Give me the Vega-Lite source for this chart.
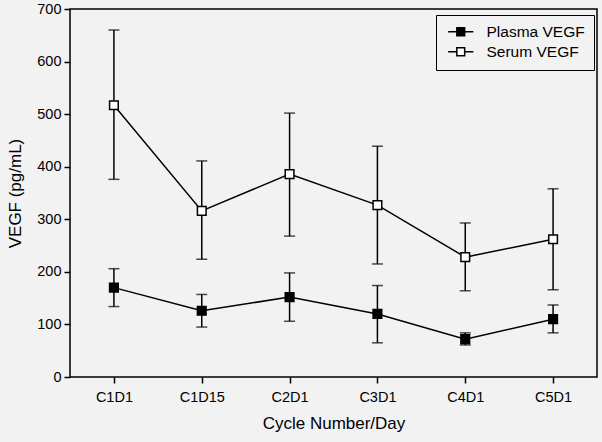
{
  "$schema": "https://vega.github.io/schema/vega-lite/v6.json",
  "width": 527,
  "height": 368,
  "autosize": {"type": "none"},
  "padding": {"left": 70, "top": 9, "right": 5, "bottom": 65},
  "background": "#f2f2f2",
  "config": {
    "view": {"stroke": "#000000", "strokeWidth": 1.5},
    "font": "Liberation Sans",
    "axis": {
      "labelFont": "Liberation Sans",
      "titleFont": "Liberation Sans",
      "labelFontSize": 14.5,
      "titleFontSize": 17,
      "labelColor": "#000000",
      "titleColor": "#000000",
      "titleFontWeight": "normal",
      "tickColor": "#000000",
      "domainColor": "#000000",
      "tickWidth": 1.5,
      "domainWidth": 1.5,
      "tickSize": 6,
      "grid": false
    }
  },
  "data": {
    "values": [
      {"day": "C1D1", "series": "Plasma VEGF", "mean": 170, "lo": 134, "hi": 206},
      {"day": "C1D15", "series": "Plasma VEGF", "mean": 126, "lo": 95, "hi": 157},
      {"day": "C2D1", "series": "Plasma VEGF", "mean": 152, "lo": 106, "hi": 198},
      {"day": "C3D1", "series": "Plasma VEGF", "mean": 120, "lo": 65, "hi": 174},
      {"day": "C4D1", "series": "Plasma VEGF", "mean": 72, "lo": 61, "hi": 84},
      {"day": "C5D1", "series": "Plasma VEGF", "mean": 110, "lo": 84, "hi": 137},
      {"day": "C1D1", "series": "Serum VEGF", "mean": 517, "lo": 376, "hi": 660},
      {"day": "C1D15", "series": "Serum VEGF", "mean": 316, "lo": 224, "hi": 411},
      {"day": "C2D1", "series": "Serum VEGF", "mean": 386, "lo": 268, "hi": 502},
      {"day": "C3D1", "series": "Serum VEGF", "mean": 327, "lo": 215, "hi": 439},
      {"day": "C4D1", "series": "Serum VEGF", "mean": 228, "lo": 164, "hi": 293},
      {"day": "C5D1", "series": "Serum VEGF", "mean": 262, "lo": 166, "hi": 358}
    ]
  },
  "encoding": {
    "x": {
      "field": "day",
      "type": "ordinal",
      "sort": ["C1D1", "C1D15", "C2D1", "C3D1", "C4D1", "C5D1"],
      "scale": {"type": "point", "padding": 0.5},
      "axis": {"title": "Cycle Number/Day", "labelAngle": 0, "labelPadding": 7, "titlePadding": 12, "domain": false}
    }
  },
  "layer": [
    {
      "mark": {"type": "rule", "color": "#000000", "strokeWidth": 1.5},
      "encoding": {
        "y": {"field": "lo", "type": "quantitative", "scale": {"domain": [0, 700]}, "axis": {"title": "VEGF (pg/mL)", "values": [0, 100, 200, 300, 400, 500, 600, 700], "labelPadding": 3, "titlePadding": 12, "domain": false}},
        "y2": {"field": "hi"}
      }
    },
    {
      "mark": {"type": "tick", "color": "#000000", "size": 11, "thickness": 1.5},
      "encoding": {"y": {"field": "lo", "type": "quantitative"}}
    },
    {
      "mark": {"type": "tick", "color": "#000000", "size": 11, "thickness": 1.5},
      "encoding": {"y": {"field": "hi", "type": "quantitative"}}
    },
    {
      "mark": {"type": "line", "color": "#000000", "strokeWidth": 1.5},
      "encoding": {
        "y": {"field": "mean", "type": "quantitative"},
        "detail": {"field": "series"}
      }
    },
    {
      "mark": {"type": "point", "shape": "square", "filled": true, "size": 75, "stroke": "#000000", "strokeWidth": 1.5, "opacity": 1},
      "encoding": {
        "y": {"field": "mean", "type": "quantitative"},
        "fill": {
          "field": "series",
          "type": "nominal",
          "scale": {"domain": ["Plasma VEGF", "Serum VEGF"], "range": ["#000000", "#ffffff"]},
          "legend": {
            "title": null,
            "orient": "none",
            "legendX": 366,
            "legendY": 6,
            "strokeColor": "#000000",
            "fillColor": "#f2f2f2",
            "padding": 9,
            "symbolType": "M-2.1,0H-0.65M0.65,0H2.1M-0.65,-0.65H0.65V0.65H-0.65Z",
            "symbolSize": 144,
            "symbolStrokeColor": "#000000",
            "symbolStrokeWidth": 1.5,
            "symbolOpacity": 1,
            "symbolOffset": 8,
            "labelOffset": 18,
            "labelFont": "Liberation Sans",
            "labelFontSize": 15.5,
            "labelColor": "#000000",
            "rowPadding": 3
          }
        }
      }
    }
  ]
}
